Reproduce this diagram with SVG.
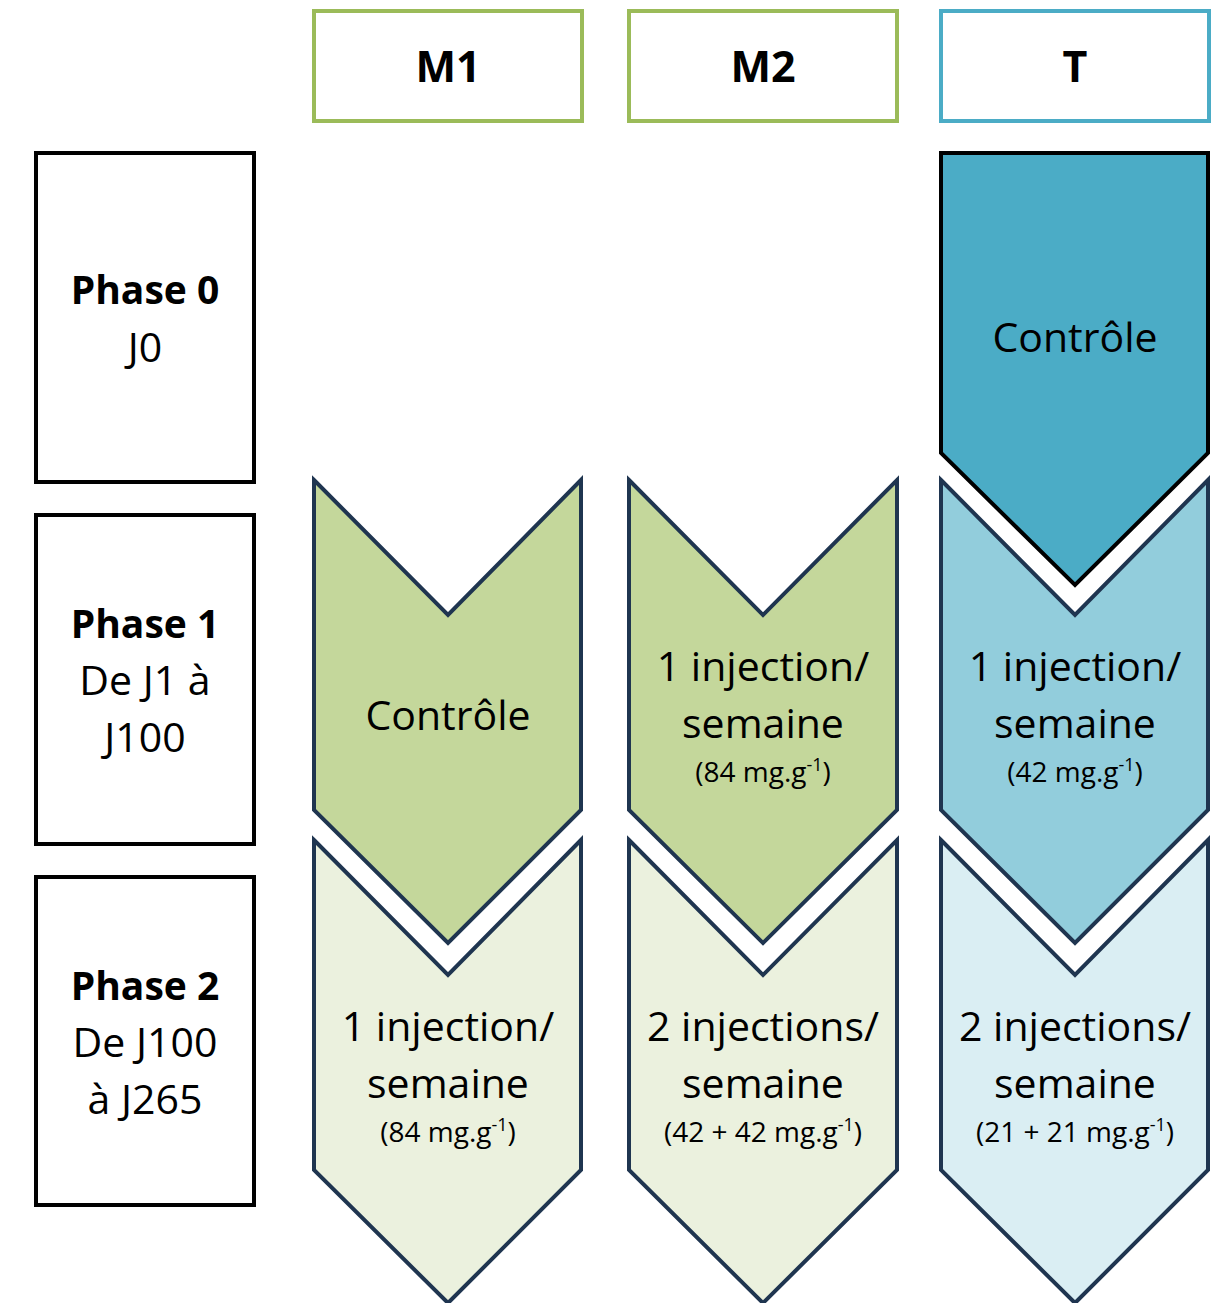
<svg xmlns="http://www.w3.org/2000/svg" width="1223" height="1303" viewBox="0 0 1223 1303">
  <style>
    text { font-family: "Open Sans", "Noto Sans", "DejaVu Sans", sans-serif; fill: #000; text-anchor: middle; }
    .hdr { font-size: 43px; font-weight: bold; }
    .ph { font-size: 39px; font-weight: bold; }
    .lbl { font-size: 41px; }
    .dose { font-size: 28px; }
    .sup { font-size: 18px; }
    .hbox { fill: #fff; stroke-width: 4; }
    .pbox { fill: #fff; stroke: #000; stroke-width: 4; }
    .chev { stroke: #1F3550; stroke-width: 4; stroke-linejoin: miter; }
    .g1 { fill: #C4D79B; }
    .g2 { fill: #EBF1DE; }
    .b0 { fill: #4BACC6; stroke: #000; stroke-width: 4; }
    .b1 { fill: #92CDDC; }
    .b2 { fill: #DAEEF3; }
  </style>

  <!-- column headers -->
  <g id="hdr-m1">
    <rect class="hbox" x="314" y="11" width="268" height="110" stroke="#9BBB59"/>
    <text class="hdr" x="448" y="82">M1</text>
  </g>
  <g id="hdr-m2">
    <rect class="hbox" x="629" y="11" width="268" height="110" stroke="#9BBB59"/>
    <text class="hdr" x="763" y="82">M2</text>
  </g>
  <g id="hdr-t">
    <rect class="hbox" x="941" y="11" width="268" height="110" stroke="#4BACC6"/>
    <text class="hdr" x="1075" y="82">T</text>
  </g>

  <!-- phase labels -->
  <g id="phase0">
    <rect class="pbox" x="36" y="153" width="218" height="329"/>
    <text class="ph" x="145" y="304">Phase 0</text>
    <text class="lbl" x="145" y="362">J0</text>
  </g>
  <g id="phase1">
    <rect class="pbox" x="36" y="515" width="218" height="329"/>
    <text class="ph" x="145" y="638">Phase 1</text>
    <text class="lbl" x="145" y="695">De J1 à</text>
    <text class="lbl" x="145" y="752">J100</text>
  </g>
  <g id="phase2">
    <rect class="pbox" x="36" y="877" width="218" height="328"/>
    <text class="ph" x="145" y="1000">Phase 2</text>
    <text class="lbl" x="145" y="1057">De J100</text>
    <text class="lbl" x="145" y="1114">à J265</text>
  </g>

  <!-- M1 column -->
  <g id="m1-p2">
    <polygon class="chev g2" points="314,840 448,975 581,840 581,1170 448,1303 314,1170"/>
    <text class="lbl" x="448" y="1041">1 injection/</text>
    <text class="lbl" x="448" y="1098">semaine</text>
    <text class="dose" x="448" y="1142">(84 mg.g<tspan class="sup" dy="-11">-1</tspan><tspan dy="11">)</tspan></text>
  </g>
  <g id="m1-p1">
    <polygon class="chev g1" points="314,480 448,615 581,480 581,810 448,943 314,810"/>
    <text class="lbl" x="448" y="730">Contrôle</text>
  </g>

  <!-- M2 column -->
  <g id="m2-p2">
    <polygon class="chev g2" points="629,840 763,975 897,840 897,1170 763,1303 629,1170"/>
    <text class="lbl" x="763" y="1041">2 injections/</text>
    <text class="lbl" x="763" y="1098">semaine</text>
    <text class="dose" x="763" y="1142">(42 + 42 mg.g<tspan class="sup" dy="-11">-1</tspan><tspan dy="11">)</tspan></text>
  </g>
  <g id="m2-p1">
    <polygon class="chev g1" points="629,480 763,615 897,480 897,810 763,943 629,810"/>
    <text class="lbl" x="763" y="681">1 injection/</text>
    <text class="lbl" x="763" y="738">semaine</text>
    <text class="dose" x="763" y="782">(84 mg.g<tspan class="sup" dy="-11">-1</tspan><tspan dy="11">)</tspan></text>
  </g>

  <!-- T column -->
  <g id="t-p2">
    <polygon class="chev b2" points="941,840 1075,975 1208,840 1208,1170 1075,1303 941,1170"/>
    <text class="lbl" x="1075" y="1041">2 injections/</text>
    <text class="lbl" x="1075" y="1098">semaine</text>
    <text class="dose" x="1075" y="1142">(21 + 21 mg.g<tspan class="sup" dy="-11">-1</tspan><tspan dy="11">)</tspan></text>
  </g>
  <g id="t-p1">
    <polygon class="chev b1" points="941,480 1075,615 1208,480 1208,810 1075,943 941,810"/>
    <text class="lbl" x="1075" y="681">1 injection/</text>
    <text class="lbl" x="1075" y="738">semaine</text>
    <text class="dose" x="1075" y="782">(42 mg.g<tspan class="sup" dy="-11">-1</tspan><tspan dy="11">)</tspan></text>
  </g>
  <g id="t-p0">
    <polygon class="b0" points="941,153 1208,153 1208,453 1075,585 941,453"/>
    <text class="lbl" x="1075" y="352">Contrôle</text>
  </g>

  <!-- no connectors: the chevrons abut directly -->
  <g id="connectors"/>
</svg>
